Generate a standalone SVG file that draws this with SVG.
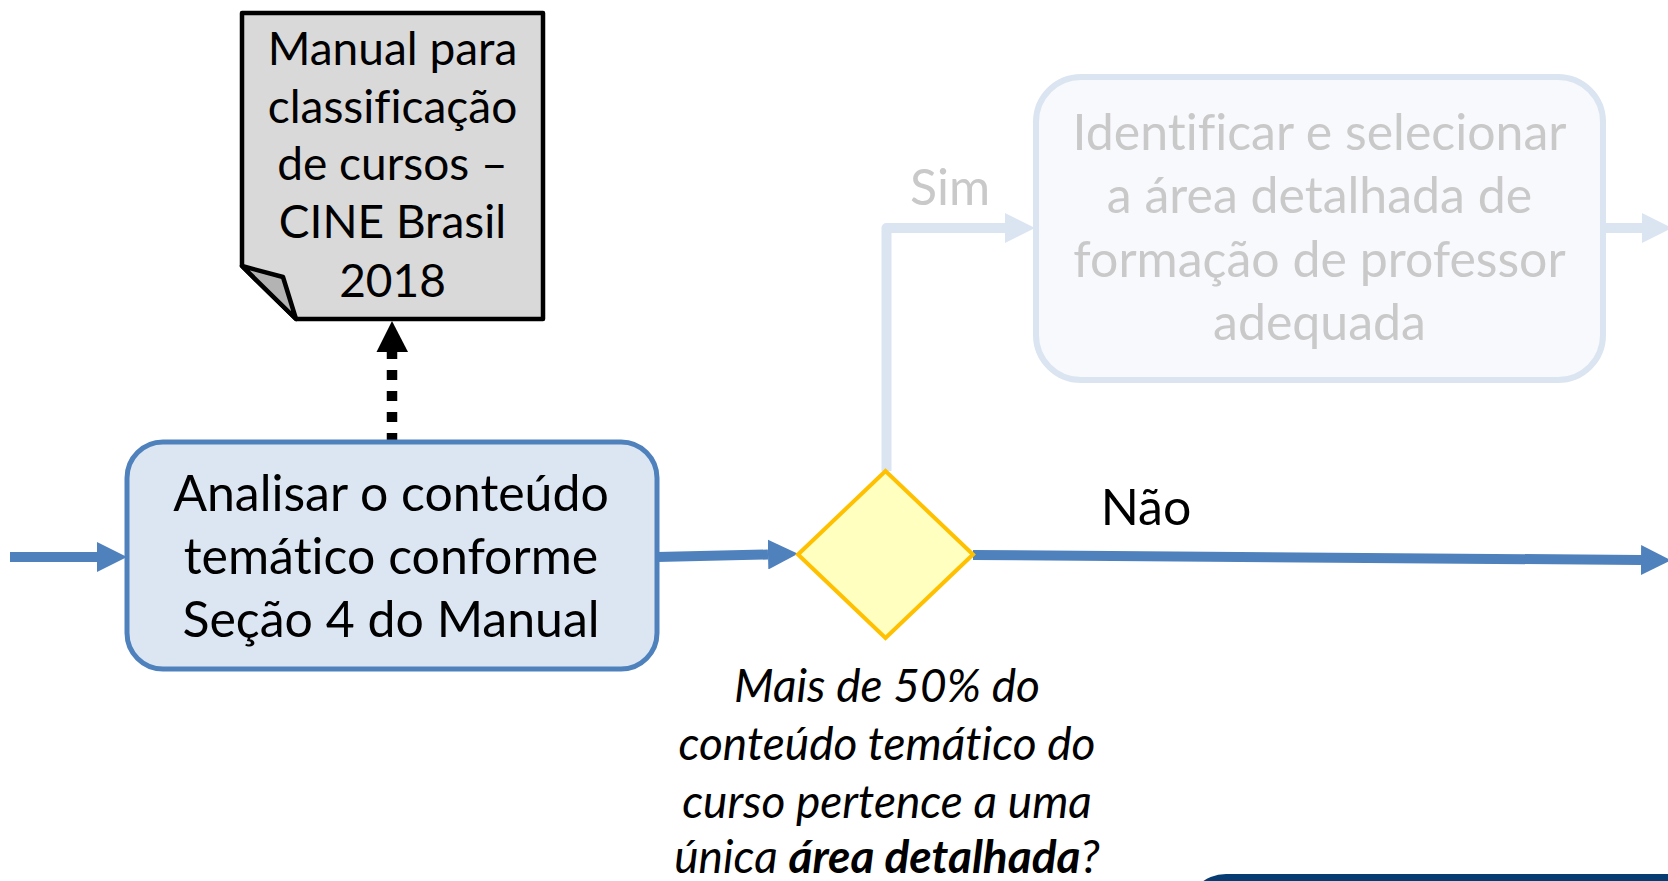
<svg xmlns="http://www.w3.org/2000/svg" width="1668" height="881" viewBox="0 0 1668 881">
<defs>
<style>
.t{font-family:Lato,"Open Sans","Liberation Sans",sans-serif;text-anchor:middle;fill:#000;font-variant-ligatures:none;font-feature-settings:"liga" 0}
.doc{font-size:46px}
.main{font-size:50px}
.faded{font-size:50px;fill:#c9c9c9}
.q{font-size:46px;font-style:italic}
.blue{stroke:#4f81bd;stroke-width:10;fill:none}
.pale{stroke:#dbe5f1;stroke-width:10;fill:none}
</style>
<marker id="ab" markerUnits="userSpaceOnUse" viewBox="0 0 30 30" refX="0" refY="15" markerWidth="30" markerHeight="30" orient="auto"><path d="M0,0 L30,15 L0,30 Z" fill="#4f81bd"/></marker>
<marker id="ap" markerUnits="userSpaceOnUse" viewBox="0 0 30 30" refX="0" refY="15" markerWidth="30" markerHeight="30" orient="auto"><path d="M0,0 L30,15 L0,30 Z" fill="#dbe5f1"/></marker>
</defs>
<rect width="1668" height="881" fill="#fff"/>

<g id="connectors">
<path class="blue" d="M10,557 H97" marker-end="url(#ab)"/>
<path class="blue" d="M657,557 L768,554.5" marker-end="url(#ab)"/>
<path class="blue" d="M973,555 L1641,560" marker-end="url(#ab)"/>
<path class="pale" d="M886.5,471 V228 H1005" stroke-linejoin="round" marker-end="url(#ap)"/>
<path class="pale" d="M1603,228 H1642" marker-end="url(#ap)"/>
<path d="M392,443 V352" stroke="#000" stroke-width="10.5" stroke-dasharray="10 11" fill="none"/>
<polygon points="376.5,352 408,352 392,321" fill="#000"/>
<text class="t faded" x="950" y="205">Sim</text>
<text class="t main" x="1146" y="525">Não</text>
</g>

<g id="doc">
<path d="M242,13 H543 V319 H296 L242,266 Z" fill="#d9d9d9" stroke="#000" stroke-width="4.5" stroke-linejoin="round"/>
<path d="M242,266 L283,277 L296,319 Z" fill="#b3b3b3" stroke="#000" stroke-width="4.5" stroke-linejoin="round"/>
<text class="t doc" x="392.5" y="65">Manual para</text>
<text class="t doc" x="392.5" y="123">classificação</text>
<text class="t doc" x="392.5" y="180">de cursos –</text>
<text class="t doc" x="392.5" y="238">CINE Brasil</text>
<text class="t doc" x="392.5" y="297">2018</text>
</g>

<g id="analisar">
<rect x="127" y="442" width="530" height="227" rx="36" fill="#dce6f2" stroke="#4f81bd" stroke-width="5"/>
<text class="t main" x="391" y="511">Analisar o conteúdo</text>
<text class="t main" x="391" y="574">temático conforme</text>
<text class="t main" x="391" y="637">Seção 4 do Manual</text>
</g>

<g id="decisao">
<polygon points="798,554.5 885.5,471 973,554.5 885.5,638" fill="#ffffc0" stroke="#ffc000" stroke-width="4"/>
<text class="t q" x="887" y="702">Mais de 50% do</text>
<text class="t q" x="887" y="760">conteúdo temático do</text>
<text class="t q" x="887" y="818">curso pertence a uma</text>
<text class="t q" x="887" y="873">única <tspan font-weight="bold">área detalhada</tspan>?</text>
</g>

<g id="identificar">
<rect x="1036" y="77" width="567" height="303" rx="45" fill="#f8f9fc" stroke="#dbe5f1" stroke-width="6"/>
<text class="t faded" x="1319.5" y="150">Identificar e selecionar</text>
<text class="t faded" x="1319.5" y="213">a área detalhada de</text>
<text class="t faded" x="1319.5" y="277">formação de professor</text>
<text class="t faded" x="1319.5" y="340">adequada</text>
</g>

<g id="proximo">
<rect x="1186" y="874" width="560" height="120" rx="40" fill="#073c73"/>
</g>
</svg>
